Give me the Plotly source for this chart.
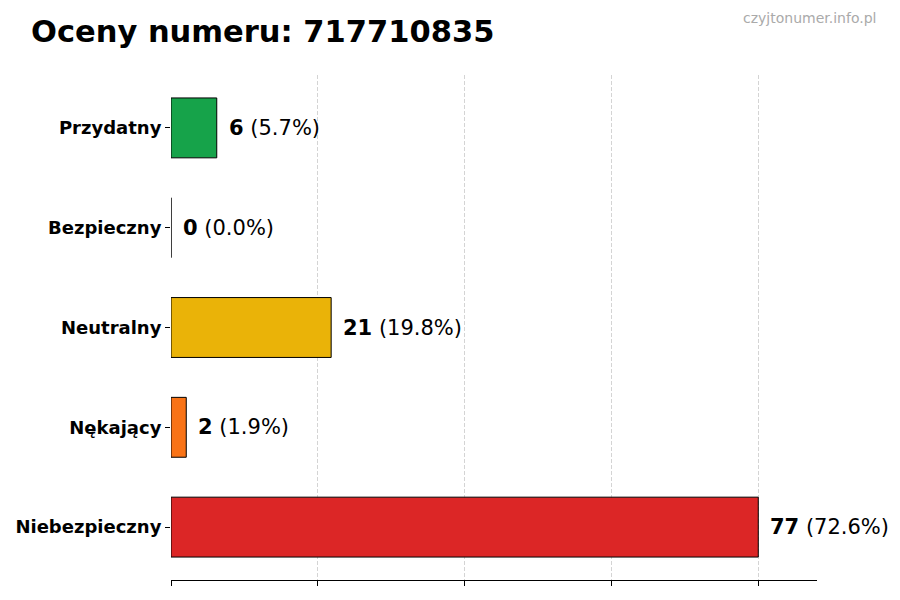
import plotly.graph_objects as go

categories = ["Niebezpieczny", "Nękający", "Neutralny", "Bezpieczny", "Przydatny"]
counts = [77, 2, 21, 0, 6]
percents = [72.6, 1.9, 19.8, 0.0, 5.7]
colors = ["#dc2626", "#f97316", "#eab308", "#9ca3af", "#16a34a"]
phone = "717710835"

# the page body adds an 8px margin, so the figure is drawn 8px smaller
W, H = 892, 592


def main():
    top = max(counts)
    x_max = top * 1.1
    ticks = [top * i / 4 for i in range(5)]
    positions = list(range(len(categories)))

    left, right, top_m, bottom = 163, 83, 67, 20
    plot_w = W - left - right
    plot_h = H - top_m - bottom

    fig = go.Figure()
    fig.add_trace(go.Bar(
        x=counts, y=positions, orientation="h", width=0.6,
        marker=dict(color=colors, line=dict(color="black", width=1)),
        hoverinfo="skip", showlegend=False,
    ))

    for pos, c, p in zip(positions, counts, percents):
        fig.add_annotation(
            x=c, y=pos, xref="x", yref="y", text="<b>%d</b> (%.1f%%)" % (c, p),
            showarrow=False, xanchor="left", xshift=10,
            font=dict(family="DejaVu Sans", size=21, color="black"),
        )

    # watermark, top right
    fig.add_annotation(
        x=(870 - left) / plot_w, y=1 + (top_m - 10) / plot_h, xref="paper", yref="paper",
        text="czyjtonumer.info.pl", showarrow=False, xanchor="right", yanchor="middle",
        font=dict(family="DejaVu Sans", size=14, color="#aaaaaa"),
    )

    fig.update_layout(
        width=W, height=H,
        margin=dict(l=left, r=right, t=top_m, b=bottom, autoexpand=False),
        plot_bgcolor="white", paper_bgcolor="white",
        title=dict(text="<b>Oceny numeru: %s</b>" % phone, x=23 / W, xanchor="left",
                   y=1 - 23 / H, yanchor="middle",
                   font=dict(family="DejaVu Sans", size=30.5, color="black")),
        xaxis=dict(range=[0, x_max], tickvals=ticks, showticklabels=False,
                   ticks="outside", ticklen=5, tickcolor="black",
                   showline=True, linecolor="black", linewidth=1,
                   showgrid=True, gridcolor="#d4d4d4", griddash="4px,2px", gridwidth=1,
                   zeroline=False, automargin=False),
        yaxis=dict(range=[-0.53, 4.53], tickvals=positions, ticktext=["<b>%s</b>" % c for c in categories],
                   ticks="outside", ticklen=5, tickcolor="black",
                   showline=False, showgrid=False, zeroline=False, automargin=False,
                   tickfont=dict(family="DejaVu Sans", size=18, color="black")),
    )

    fig.write_html("out.html")


if __name__ == '__main__':
    main()
